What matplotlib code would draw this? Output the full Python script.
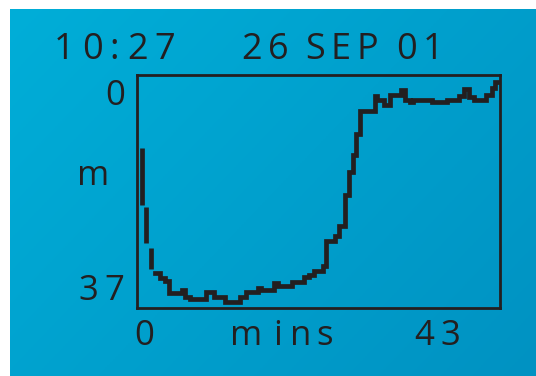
import numpy as np
import matplotlib
matplotlib.use("Agg")
import matplotlib.pyplot as plt

plt.rcParams['font.family'] = ['Open Sans', 'DejaVu Sans']

# descent: fast drop shown as separate bars (minutes, top depth, bottom depth)
descent_t = [0.59, 1.07, 1.66]
descent_top = [11.9, 21.5, 28.2]
descent_bot = [21.2, 27.4, 31.6]

# rest of the dive profile, step-wise (minutes, metres)
time_min = [2.13, 2.72, 3.32, 3.79, 5.33, 5.69, 6.28, 8.17, 9.12, 10.42,
            12.20, 12.91, 14.33, 14.69, 16.23, 16.70, 18.36, 19.78, 20.38, 20.97,
            22.03, 22.39, 23.46, 23.93, 24.64, 25.11, 25.59, 25.94, 26.42, 28.19,
            28.43, 29.26, 29.97, 31.27, 31.75, 32.34, 32.70, 34.95, 36.72, 38.14,
            38.74, 39.33, 39.92, 41.34, 42.05, 42.41, 42.65]
depth_m = [32.3, 33.1, 33.6, 35.5, 35.1, 36.2, 36.5, 35.4, 36.2, 37.0,
           36.2, 35.4, 34.7, 35.1, 33.9, 34.4, 33.8, 32.9, 32.6, 32.0,
           31.1, 27.1, 26.3, 24.6, 19.6, 15.8, 13.0, 9.6, 5.9, 3.4,
           4.1, 4.9, 3.3, 2.4, 4.1, 4.4, 4.1, 4.4, 4.1, 3.4,
           2.3, 3.6, 4.1, 3.3, 2.1, 1.1, 1.1]

header_time = "10:27"
header_date = "26SEP01"
x_label = "mins"
y_label = "m"
x_ticks = ["0", "43"]
y_ticks = ["0", "37"]
dark = "#231f20"

W, H = 536, 376
fig = plt.figure(figsize=(W / 100, H / 100), dpi=100, facecolor="white")

# blue panel with a soft diagonal gradient
bg = fig.add_axes([10 / W, 0, (W - 10) / W, (H - 9) / H])
gx, gy = np.meshgrid(np.linspace(0, 1, 200), np.linspace(0, 1, 200))
g = (gx * 0.6 + gy * 0.4)
c0 = np.array([0, 174, 216]) / 255
c1 = np.array([0, 146, 194]) / 255
img = c0[None, None, :] * (1 - g[..., None]) + c1[None, None, :] * g[..., None]
bg.imshow(img, aspect="auto", extent=[0, 1, 0, 1], origin="upper")
bg.axis("off")

ax = fig.add_axes([137 / W, (H - 308) / H, 363 / W, 233 / H])
ax.set_facecolor("none")
ax.set_xlim(0, 43)
ax.set_ylim(38, 0)
for s in ax.spines.values():
    s.set_color(dark)
    s.set_linewidth(2)
ax.set_xticks([])
ax.set_yticks([])

ax.vlines(descent_t, descent_top, descent_bot, color=dark, lw=3.4)
ax.plot(time_min, depth_m, drawstyle="steps-post", color=dark, lw=3.4,
        solid_joinstyle="miter")


# LCD-style spaced lettering: one glyph per pixel centre
def spaced(text, xs, y, size=25, **kw):
    for ch, x in zip(text, xs):
        fig.text(x / W, 1 - y / H, ch, ha="center", va="center",
                 fontsize=size, color=dark, **kw)


spaced(header_time, [64, 93, 114, 138, 165], 50, size=26)
spaced(header_date, [252, 278, 315, 341, 367, 406, 433], 50, size=26)
spaced(y_ticks[0], [115], 96)
spaced(y_ticks[1], [88, 114], 291)
spaced(y_label, [93], 176)
spaced(x_ticks[0], [144], 336)
spaced(x_label, [246, 278, 301, 325], 336)
spaced(x_ticks[1], [424, 450], 336)

fig.savefig("out.png", dpi=100, facecolor="white")
